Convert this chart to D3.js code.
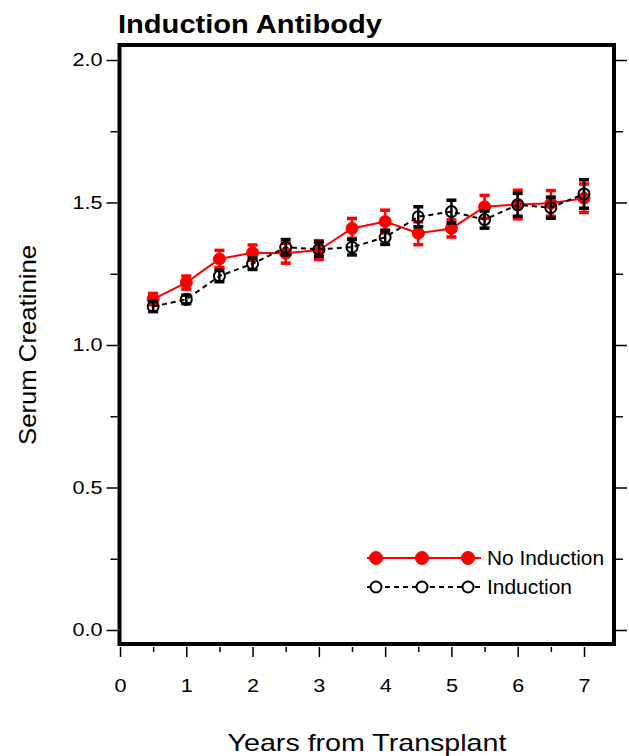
<!DOCTYPE html>
<html>
<head>
<meta charset="utf-8">
<script src="https://cdn.jsdelivr.net/npm/d3@7"></script>
<style>
  html, body { margin: 0; padding: 0; background: #fff; }
  svg { display: block; font-family: "Liberation Sans", Arial, sans-serif; }
</style>
</head>
<body>
<svg id="chart" width="629" height="756"></svg>
<script>
const years = [0.5, 1, 1.5, 2, 2.5, 3, 3.5, 4, 4.5, 5, 5.5, 6, 6.5, 7];
const noInduction    = [1.161, 1.219, 1.302, 1.324, 1.322, 1.333, 1.409, 1.433, 1.392, 1.409, 1.485, 1.493, 1.497, 1.515];
const noInductionErr = [0.020, 0.023, 0.030, 0.027, 0.035, 0.033, 0.035, 0.040, 0.040, 0.030, 0.040, 0.050, 0.045, 0.050];
const induction      = [1.135, 1.160, 1.242, 1.285, 1.343, 1.336, 1.343, 1.378, 1.450, 1.468, 1.440, 1.492, 1.482, 1.530];
const inductionErr   = [0.018, 0.015, 0.020, 0.020, 0.027, 0.025, 0.027, 0.025, 0.035, 0.040, 0.030, 0.040, 0.037, 0.050];
const xTicks = [0, 1, 2, 3, 4, 5, 6, 7];
const xMinorTicks = [0.5, 1.5, 2.5, 3.5, 4.5, 5.5, 6.5];
const yTicks = [0, 0.5, 1.0, 1.5, 2.0];
const yMinorTicks = [0.25, 0.75, 1.25, 1.75];
const seriesNames = ["No Induction", "Induction"];
const titleText = "Induction Antibody";
const xTitle = "Years from Transplant";
const yTitle = "Serum Creatinine";

const FONT = "Liberation Sans, Arial, sans-serif";
const HSTRETCH = 1.2; // the original text is drawn horizontally stretched

const svg = d3.select("#chart");
const x = d3.scaleLinear().domain([0, 7]).range([120, 584]);
const y = d3.scaleLinear().domain([0, 2]).range([630, 60]);

const frame = { left: 119.5, right: 614, top: 45, bottom: 644 };

// width-stretch helper: applies textLength = natural width * factor
function stretch(sel, factor) {
  sel.each(function () {
    const w = this.getComputedTextLength();
    d3.select(this).attr("textLength", w * factor).attr("lengthAdjust", "spacingAndGlyphs");
  });
}

// title
svg.append("text").attr("x", 118).attr("y", 33)
  .attr("font-size", 25).attr("font-weight", "bold").text(titleText)
  .call(s => stretch(s, 265 / 9.111 / 25));

// y axis left (outside ticks)
const yAxisL = d3.axisLeft(y).tickValues(yTicks).tickFormat(d3.format(".1f")).tickSize(11).tickPadding(4);
const gyl = svg.append("g").attr("transform", `translate(${frame.left - 2},0)`).call(yAxisL);
gyl.select(".domain").remove();
gyl.selectAll("text").attr("font-size", 18).attr("fill", "#000").style("font-family", FONT)
  .call(s => stretch(s, HSTRETCH));
gyl.selectAll("line").attr("stroke-width", 1.5);
svg.append("g").attr("transform", `translate(${frame.left - 2},0)`)
  .call(d3.axisLeft(y).tickValues(yMinorTicks).tickFormat("").tickSize(7))
  .call(g => g.select(".domain").remove())
  .selectAll("line").attr("stroke-width", 1.5);

// y axis right
svg.append("g").attr("transform", `translate(${frame.right + 2},0)`)
  .call(d3.axisRight(y).tickValues(yTicks).tickFormat("").tickSize(11))
  .call(g => g.select(".domain").remove())
  .selectAll("line").attr("stroke-width", 1.5);
svg.append("g").attr("transform", `translate(${frame.right + 2},0)`)
  .call(d3.axisRight(y).tickValues(yMinorTicks).tickFormat("").tickSize(7))
  .call(g => g.select(".domain").remove())
  .selectAll("line").attr("stroke-width", 1.5);

// x axis (below frame)
const gx = svg.append("g").attr("transform", `translate(0,${frame.bottom + 3})`)
  .call(d3.axisBottom(x).tickValues(xTicks).tickFormat(d3.format("d")).tickSize(10).tickPadding(22));
gx.select(".domain").remove();
gx.selectAll("text").attr("font-size", 18).attr("fill", "#000").style("font-family", FONT)
  .call(s => stretch(s, HSTRETCH));
gx.selectAll("line").attr("stroke-width", 1.5);
svg.append("g").attr("transform", `translate(0,${frame.bottom + 3})`)
  .call(d3.axisBottom(x).tickValues(xMinorTicks).tickFormat("").tickSize(5))
  .call(g => g.select(".domain").remove())
  .selectAll("line").attr("stroke-width", 1.5);

// frame
svg.append("rect").attr("x", frame.left).attr("y", frame.top)
  .attr("width", frame.right - frame.left).attr("height", frame.bottom - frame.top)
  .attr("fill", "none").attr("stroke", "#000").attr("stroke-width", 4);

// axis titles
svg.append("text").attr("x", 367).attr("y", 751).attr("text-anchor", "middle")
  .attr("font-size", 24).text(xTitle)
  .call(s => stretch(s, 283 / 9.892 / 24));
svg.append("text").attr("transform", "translate(36,345) rotate(-90)").attr("text-anchor", "middle")
  .attr("font-size", 24).text(yTitle)
  .call(s => stretch(s, 200 / 7.78 / 24));

// series
const series = [
  { name: seriesNames[0], vals: noInduction, err: noInductionErr, color: "#ff0000", dash: null, filled: true },
  { name: seriesNames[1], vals: induction, err: inductionErr, color: "#000000", dash: "5,4", filled: false }
];
const line = d3.line().x(d => x(d[0])).y(d => y(d[1]));

series.forEach(s => {
  const pts = years.map((yr, i) => [yr, s.vals[i], s.err[i]]);
  const g = svg.append("g");
  g.append("path").datum(pts).attr("d", line).attr("fill", "none")
    .attr("stroke", s.color).attr("stroke-width", 2).attr("stroke-dasharray", s.dash);
  const eb = g.selectAll(".eb").data(pts).enter().append("g");
  eb.append("line").attr("x1", d => x(d[0])).attr("x2", d => x(d[0]))
    .attr("y1", d => y(d[1] - d[2])).attr("y2", d => y(d[1] + d[2]))
    .attr("stroke", s.color).attr("stroke-width", 2.5);
  [1, -1].forEach(sg => {
    eb.append("line").attr("x1", d => x(d[0]) - 5).attr("x2", d => x(d[0]) + 5)
      .attr("y1", d => y(d[1] + sg * d[2])).attr("y2", d => y(d[1] + sg * d[2]))
      .attr("stroke", s.color).attr("stroke-width", 3.5);
  });
  g.selectAll(".pt").data(pts).enter().append("circle")
    .attr("cx", d => x(d[0])).attr("cy", d => y(d[1]))
    .attr("r", s.filled ? 6 : 5.5)
    .attr("fill", s.filled ? s.color : "none")
    .attr("stroke", s.color).attr("stroke-width", s.filled ? 1 : 2);
});

// legend
const legendRows = [
  { s: series[0], y: 558, w: 117 },
  { s: series[1], y: 587, w: 85 }
];
legendRows.forEach(r => {
  const g = svg.append("g");
  g.append("line").attr("x1", 367).attr("x2", 481).attr("y1", r.y).attr("y2", r.y)
    .attr("stroke", r.s.color).attr("stroke-width", 2).attr("stroke-dasharray", r.s.dash);
  [376, 422, 468].forEach(cx => {
    g.append("circle").attr("cx", cx).attr("cy", r.y).attr("r", r.s.filled ? 6.5 : 5.5)
      .attr("fill", r.s.filled ? r.s.color : "#fff").attr("stroke", r.s.color)
      .attr("stroke-width", r.s.filled ? 1 : 2);
  });
  g.append("text").attr("x", 487).attr("y", r.y + 7).attr("font-size", 20).text(r.s.name)
    .attr("textLength", r.w).attr("lengthAdjust", "spacingAndGlyphs");
});
</script>
</body>
</html>
